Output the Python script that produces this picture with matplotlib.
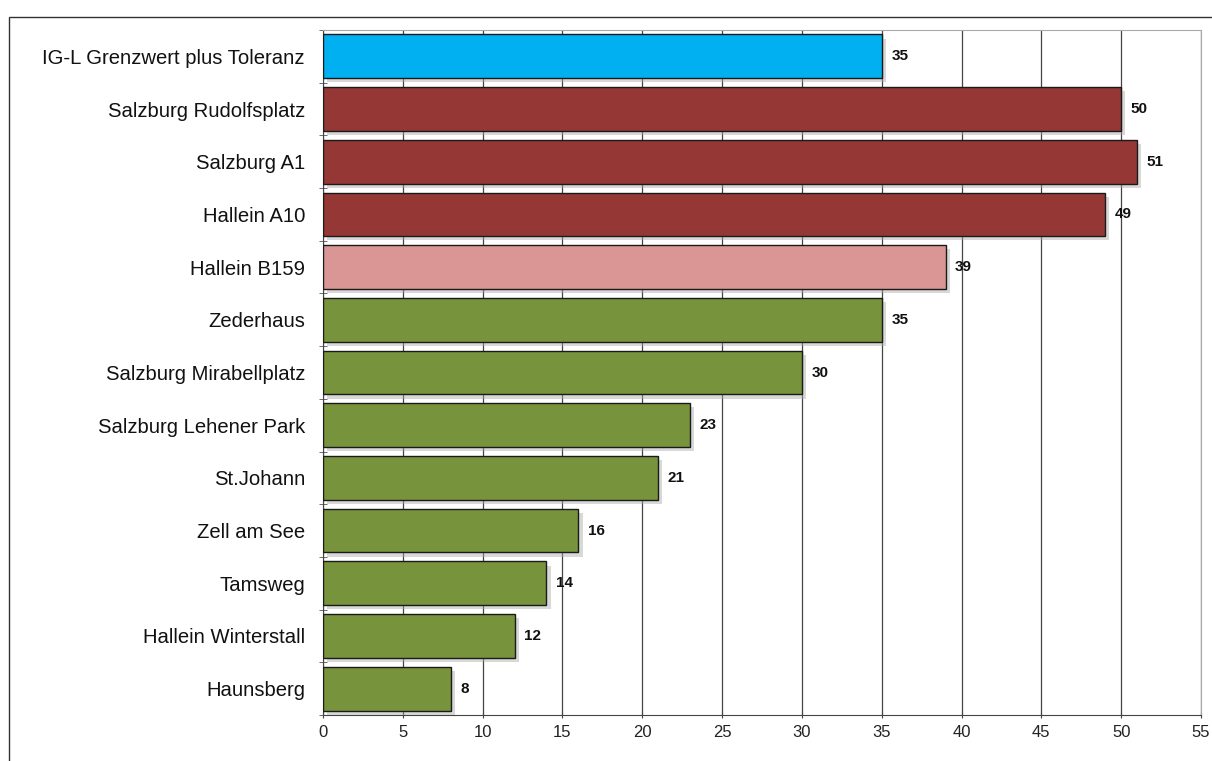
import matplotlib.pyplot as plt
import matplotlib.patheffects as pe
from matplotlib.patches import Rectangle
import numpy as np

plt.rcParams['font.family'] = ['Liberation Sans', 'DejaVu Sans']

# data, top to bottom as in the picture
stations = ["IG-L Grenzwert plus Toleranz", "Salzburg Rudolfsplatz", "Salzburg A1",
            "Hallein A10", "Hallein B159", "Zederhaus", "Salzburg Mirabellplatz",
            "Salzburg Lehener Park", "St.Johann", "Zell am See", "Tamsweg",
            "Hallein Winterstall", "Haunsberg"]
values = [35, 50, 51, 49, 39, 35, 30, 23, 21, 16, 14, 12, 8]
groups = ["limit", "over", "over", "over", "near", "ok", "ok", "ok", "ok", "ok", "ok", "ok", "ok"]
group_colors = {"limit": "#00B0F0", "over": "#953735", "near": "#D99694", "ok": "#77933C"}
xticks = list(range(0, 56, 5))

fig = plt.figure(figsize=(12.12, 7.61), dpi=100)
ax = fig.add_axes([323/1212, 1-715/761, (1201-323)/1212, (715-30)/761])

# outer frame of the picture
fig.patches.append(Rectangle((9/1212, -0.01), 1.02, 1-17/761+0.01, transform=fig.transFigure,
                             fill=False, edgecolor="#333333", linewidth=1.0, zorder=0))

y = np.arange(len(stations))
cols = [group_colors[g] for g in groups]
bars = ax.barh(y, values, height=0.83, color=cols, edgecolor="#1a1a1a", linewidth=1.0, zorder=3)
for b in bars:
    b.set_path_effects([pe.SimplePatchShadow(offset=(3, -3), shadow_rgbFace="#aaaaaa", alpha=0.45),
                        pe.Normal()])

for yi, v in zip(y, values):
    ax.text(v + 0.6, yi, str(v), va="center", ha="left", fontsize=11, fontweight="bold",
            color="#111111", zorder=4)

ax.set_xlim(0, 55)
ax.set_ylim(len(stations) - 0.5, -0.5)
ax.set_xticks(xticks)
ax.set_xticklabels([str(t) for t in xticks], fontsize=12, color="#222222")
ax.set_yticks(y)
ax.set_yticklabels(stations, fontsize=14.6, color="#111111")
ax.tick_params(axis="y", length=0, pad=13)
ax.tick_params(axis="x", length=5, direction="inout", color="#444444", pad=5)
# small tick marks between categories on the left
ax.set_yticks(np.arange(-0.5, len(stations), 1), minor=True)
ax.tick_params(axis="y", which="minor", length=6, direction="inout", color="#555555")

ax.grid(axis="x", color="#444444", linewidth=0.9, zorder=0)
ax.set_axisbelow(True)
for s in ["top", "right"]:
    ax.spines[s].set_color("#aaaaaa")
for s in ["left", "bottom"]:
    ax.spines[s].set_color("#444444")

fig.savefig("out.png", dpi=100)
